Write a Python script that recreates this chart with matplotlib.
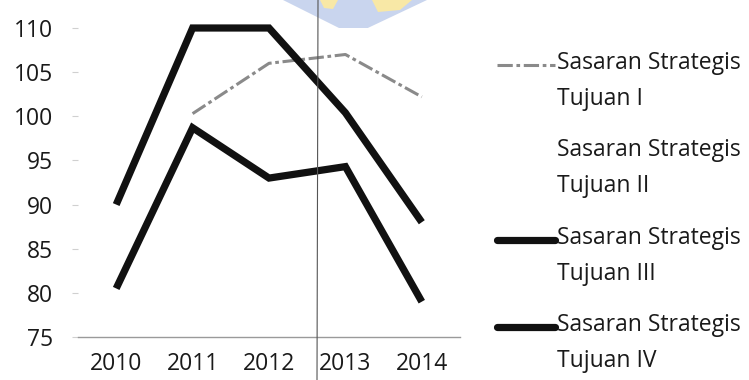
import numpy as np
import matplotlib
matplotlib.use("Agg")
import matplotlib.pyplot as plt
from matplotlib.lines import Line2D
from matplotlib.patches import Polygon

plt.rcParams['font.family'] = ['Open Sans', 'DejaVu Sans']

# Data
years = ['2010', '2011', '2012', '2013', '2014']
tujuan_1 = [np.nan, 100.3, 106.0, 107.0, 102.2]
tujuan_2 = [np.nan, np.nan, np.nan, np.nan, np.nan]
tujuan_3 = [90.0, 110.0, 110.0, 100.4, 88.0]
tujuan_4 = [80.5, 98.7, 93.0, 94.3, 79.0]
y_ticks = [75, 80, 85, 90, 95, 100, 105, 110]
series_labels = ['Sasaran Strategis\nTujuan I', 'Sasaran Strategis\nTujuan II',
                 'Sasaran Strategis\nTujuan III', 'Sasaran Strategis\nTujuan IV']

W, H = 749, 380
fig = plt.figure(figsize=(W / 100, H / 100), dpi=100)
fig.patch.set_facecolor('white')

def fx(px):
    return px / W

def fy(py):
    return 1 - py / H

ax = fig.add_axes([fx(78), fy(337), fx(460) - fx(78), fy(28) - fy(337)])
x = np.arange(len(years))

styles = [
    dict(color='#8a8a8a', lw=2.2, ls=(0, (5, 1.2, 1.2, 1.2))),
    dict(color='white', lw=2.0, ls='-'),
    dict(color='#111111', lw=5.2, ls='-'),
    dict(color='#111111', lw=5.2, ls='-'),
]
for vals, st in zip([tujuan_1, tujuan_2, tujuan_3, tujuan_4], styles):
    ax.plot(x, vals, color=st['color'], lw=st['lw'], ls=st['ls'],
            solid_joinstyle='miter', solid_capstyle='butt', clip_on=False)

ax.set_xlim(-0.5, len(years) - 0.5)
ax.set_ylim(75, 110)
ax.set_xticks(x)
ax.set_xticklabels(years)
ax.set_yticks(y_ticks)
for s in ['top', 'right', 'left']:
    ax.spines[s].set_visible(False)
ax.spines['bottom'].set_color('#9a9a9a')
ax.spines['bottom'].set_linewidth(1.0)
ax.tick_params(axis='x', length=0, pad=11, labelsize=16.5, labelcolor='#1a1a1a')
ax.tick_params(axis='y', length=4, width=0.8, color='#d0d0d0', pad=14,
               labelsize=16.5, labelcolor='#1a1a1a')

# Legend drawn beside the plot, handle aligned with the first text line
legend_rows = [65, 152, 240, 327]
for lab, st, row in zip(series_labels, styles, legend_rows):
    if st['color'] != 'white':
        fig.add_artist(Line2D([fx(497), fx(555)], [fy(row), fy(row)],
                              transform=fig.transFigure, color=st['color'],
                              lw=st['lw'], ls=st['ls'], solid_capstyle='round'))
    fig.text(fx(557), fy(row - 14), lab, ha='left', va='top', fontsize=16.5,
             color='#1a1a1a', linespacing=1.65, transform=fig.transFigure)

# Faint logo at the top edge
fig.add_artist(Polygon([[fx(283), fy(0)], [fx(427), fy(0)], [fx(353), fy(35)]],
                       closed=True, transform=fig.transFigure,
                       facecolor='#c9d5ee', edgecolor='none', zorder=0))
fig.add_artist(Polygon([[fx(320), fy(0)], [fx(338), fy(0)], [fx(333), fy(9)], [fx(324), fy(8)]],
                       closed=True, transform=fig.transFigure,
                       facecolor='#f8e8a6', edgecolor='none', zorder=0))
fig.add_artist(Polygon([[fx(372), fy(0)], [fx(412), fy(0)], [fx(400), fy(10)], [fx(378), fy(12)]],
                       closed=True, transform=fig.transFigure,
                       facecolor='#f8e8a6', edgecolor='none', zorder=0))

# Thin vertical fold line across the page
fig.add_artist(Line2D([fx(318), fx(317)], [1, 0], transform=fig.transFigure,
                      color='#555555', lw=0.8))

fig.savefig('out.png', dpi=100)
